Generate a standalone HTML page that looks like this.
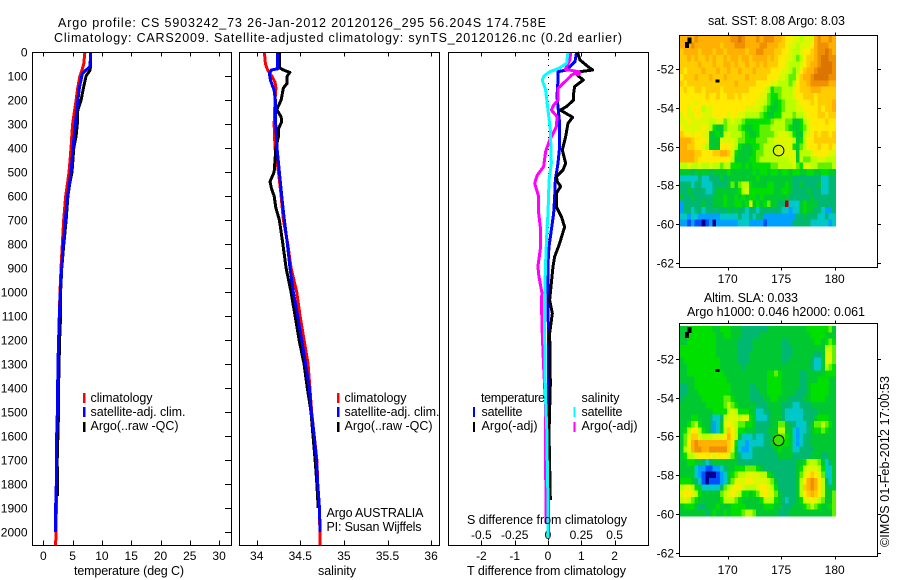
<!DOCTYPE html>
<html lang="en">
<head>
<meta charset="utf-8">
<title>Argo profile CS 5903242_73</title>
<style>
html,body{margin:0;padding:0;background:#fff;}
svg{display:block;}
text{font-family:"Liberation Sans",sans-serif;font-size:12px;fill:#000;}
text[textLength]{font-size:12.5px;}
.frame{fill:none;stroke:#000;stroke-width:1;shape-rendering:crispEdges;}
</style>
</head>
<body>
<svg id="chart" width="900" height="580" viewBox="0 0 900 580" xmlns="http://www.w3.org/2000/svg">
  <rect x="0" y="0" width="900" height="580" fill="#fff"/>
  <text x="58" y="27" textLength="488" lengthAdjust="spacing">Argo profile: CS 5903242_73 26-Jan-2012 20120126_295 56.204S 174.758E</text>
  <text x="54" y="42" textLength="568" lengthAdjust="spacing">Climatology: CARS2009. Satellite-adjusted climatology: synTS_20120126.nc (0.2d earlier)</text>

  <g id="plot-temp"></g>
  <g id="plot-sal"></g>
  <g id="plot-diff"></g>
  <g id="map-sst"></g>
  <g id="map-sla"></g>

  <rect class="frame" x="32.5" y="52.5" width="199" height="493"/>
  <rect class="frame" x="239.5" y="52.5" width="200" height="493"/>
  <rect class="frame" x="448.5" y="52.5" width="200" height="493"/>
  <rect class="frame" x="679.5" y="35.5" width="198" height="232"/>
  <rect class="frame" x="679.5" y="323.5" width="198" height="233"/>

  <text x="74" y="575" textLength="110" lengthAdjust="spacing">temperature (deg C)</text>
  <text x="318" y="575" textLength="38" lengthAdjust="spacing">salinity</text>
  <text x="467" y="575" textLength="159" lengthAdjust="spacing">T difference from climatology</text>
  <text x="467" y="524" textLength="160" lengthAdjust="spacing">S difference from climatology</text>

  <g>
    <rect x="83" y="393" width="2.5" height="10" fill="#ff0000"/>
    <rect x="83" y="407" width="2.5" height="10" fill="#0000ff"/>
    <rect x="83" y="422" width="2.5" height="10" fill="#000"/>
    <text x="90.5" y="402" textLength="62" lengthAdjust="spacing">climatology</text>
    <text x="90.5" y="416" textLength="95" lengthAdjust="spacing">satellite-adj. clim.</text>
    <text x="90.5" y="430" textLength="88" lengthAdjust="spacing">Argo(..raw -QC)</text>
  </g>
  <g>
    <rect x="337" y="393" width="2.5" height="10" fill="#ff0000"/>
    <rect x="337" y="407" width="2.5" height="10" fill="#0000ff"/>
    <rect x="337" y="422" width="2.5" height="10" fill="#000"/>
    <text x="344.5" y="402" textLength="62" lengthAdjust="spacing">climatology</text>
    <text x="344.5" y="416" textLength="95" lengthAdjust="spacing">satellite-adj. clim.</text>
    <text x="344.5" y="430" textLength="88" lengthAdjust="spacing">Argo(..raw -QC)</text>
  </g>
  <text x="326.5" y="517" textLength="97" lengthAdjust="spacing">Argo AUSTRALIA</text>
  <text x="326.5" y="531" textLength="95" lengthAdjust="spacing">PI: Susan Wijffels</text>

  <g>
    <text x="481" y="402" textLength="64" lengthAdjust="spacing">temperature</text>
    <text x="481.5" y="416" textLength="41" lengthAdjust="spacing">satellite</text>
    <text x="481.5" y="430" textLength="56" lengthAdjust="spacing">Argo(-adj)</text>
    <rect x="473" y="407" width="2" height="10" fill="#0000ff"/>
    <rect x="473" y="422" width="2" height="10" fill="#000"/>
    <text x="581.5" y="402" textLength="38" lengthAdjust="spacing">salinity</text>
    <text x="581.5" y="416" textLength="41" lengthAdjust="spacing">satellite</text>
    <text x="581.5" y="430" textLength="56" lengthAdjust="spacing">Argo(-adj)</text>
    <rect x="573.5" y="407" width="2" height="10" fill="#00ffff"/>
    <rect x="573.5" y="422" width="2" height="10" fill="#ff00ff"/>
  </g>

  <text x="708" y="25" textLength="137" lengthAdjust="spacing">sat. SST: 8.08 Argo: 8.03</text>
  <text x="704" y="302" textLength="94" lengthAdjust="spacing">Altim. SLA: 0.033</text>
  <text x="687" y="316" textLength="178" lengthAdjust="spacing">Argo h1000: 0.046 h2000: 0.061</text>
  <text x="889" y="547" transform="rotate(-90 889 547)" textLength="171" lengthAdjust="spacing">©IMOS 01-Feb-2012 17:00:53</text>
</svg>

<script>
const depthTicks = [0,100,200,300,400,500,600,700,800,900,1000,1100,1200,1300,1400,1500,1600,1700,1800,1900,2000];
const tempTicks = [0,5,10,15,20,25,30];
const salTicks = [34,34.5,35,35.5,36];
const salTickLabels = ['34','34.5','35','35.5','36'];
const tDiffTicks = [-2,-1,0,1,2];
const sDiffTicks = [-0.5,-0.25,0,0.25,0.5];
const lonTicks = [170,175,180];
const latTicks = [-52,-54,-56,-58,-60,-62];

const tempClimDepth = [0,50,80,100,150,200,300,400,500,600,700,800,900,1000,1100,1300,1500,1800,2000,2055];
const tempClimValue = [7.1,6.9,6.55,6.25,5.87,5.6,5.0,4.73,4.4,3.82,3.48,3.25,3.02,2.85,2.73,2.5,2.4,2.28,2.17,2.1];
const tempSatDepth = [0,60,75,90,150,200,300,400,500,600,700,800,900,1000,1100,1300,1500,1600,1800,1900,2000];
const tempSatValue = [8.08,7.97,7.3,6.66,6.15,5.9,5.47,5.07,4.73,4.16,3.76,3.42,3.14,2.9,2.73,2.5,2.4,2.28,2.22,2.1,2.1];
const tempArgoDepth = [0,60,75,100,150,200,250,300,350,400,500,550,600,700,800,900,1000,1100,1200,1400,1500,1700,1850];
const tempArgoValue = [8.03,8.03,8.0,7.3,6.85,6.45,5.8,5.8,5.6,5.2,4.9,4.5,4.2,3.9,3.5,3.15,2.95,2.95,2.78,2.6,2.6,2.37,2.43];

const salClimDepth = [0,50,75,100,125,150,200,300,400,500,600,700,800,900,1000,1100,1200,1300,1400,1500,1600,1700,1800,1900,2055];
const salClimValue = [34.088,34.1,34.126,34.172,34.21,34.22,34.21,34.2,34.21,34.25,34.28,34.306,34.356,34.394,34.459,34.497,34.543,34.589,34.61,34.63,34.66,34.69,34.7,34.72,34.727];
const salSatDepth = [0,70,75,90,120,160,200,300,400,500,600,700,800,900,1000,1100,1200,1300,1400,1500,1600,1700,1800,1900,2000];
const salSatValue = [34.24,34.24,34.17,34.145,34.16,34.2,34.214,34.218,34.233,34.26,34.287,34.317,34.352,34.382,34.42,34.47,34.516,34.56,34.604,34.627,34.66,34.685,34.7,34.72,34.727];
const salArgoDepth = [0,65,75,85,100,130,150,200,240,270,290,320,350,400,450,500,540,570,600,650,700,800,900,1000,1100,1200,1300,1400,1500,1600,1700,1800,1900];
const salArgoValue = [34.26,34.26,34.306,34.38,34.35,34.35,34.306,34.28,34.23,34.28,34.287,34.25,34.25,34.22,34.21,34.2,34.153,34.17,34.2,34.22,34.26,34.3,34.337,34.394,34.44,34.486,34.543,34.58,34.623,34.646,34.67,34.69,34.705];

const dTSatDepth = [0,40,75,82,117,186,297,394,464,533,603,672,742,811,880,1019,1300,1700,2025];
const dTSatValue = [0.86,0.81,0.56,0.3,0.3,0.27,0.35,0.35,0.3,0.22,0.2,0.17,0.1,0.03,0,0,0.02,0.02,0.02];
const dTArgoDepth = [0,33,61,75,82,96,117,144,172,200,228,242,272,297,353,408,464,492,519,540,560,589,644,686,728,797,853,894,964,1033,1089,1172,1381,1589,1867];
const dTArgoValue = [0.88,0.96,1.2,1.34,0.96,0.88,1.06,0.8,0.77,0.77,0.55,0.37,0.74,0.6,0.53,0.43,0.53,0.45,0.25,0.28,0.38,0.25,0.25,0.4,0.5,0.35,0.2,0.15,0.1,0.05,0.13,0.05,0.07,0.03,0.07];
const dSSatDepth = [0,47,68,82,100,117,158,242,325,464,533,672,742,880,1019,1172,1311,1450,1589,1728,1867,2025];
const dSSatValue = [0.15,0.14,0.083,0.013,-0.03,-0.043,-0.018,0,0.018,0.025,0.008,0,-0.008,-0.018,-0.025,-0.025,-0.023,-0.018,-0.008,-0.005,0,0];
const dSArgoDepth = [0,33,72,82,96,117,151,200,221,242,269,311,367,415,478,513,547,603,672,742,811,894,936,1005,1033,1172,1311,1450,1589,1728,1967];
const dSArgoValue = [0.17,0.165,0.13,0.227,0.177,0.14,0.076,0.076,0.043,0.025,0.068,0.063,0.013,-0.018,-0.033,-0.08,-0.1,-0.07,-0.07,-0.055,-0.055,-0.076,-0.068,-0.045,-0.05,-0.043,-0.033,-0.02,-0.018,-0.018,-0.013];
const surfaceDiffDepth = [88];
const surfaceDiffS = [0.225];

const levelColors = ['#000090','#0050ff','#00a0ff','#00c8c8','#00b870','#00c830','#00e000','#60f000','#b8ff00','#dcf800','#ffea00','#ffcc00','#ffb000','#f09000','#dc7400','#b00000'];

const sstGrid = [
[12,12,12,12,13,12,12,12,12,12,12,12,12,12,13,13,14,13,12,12,12,13,12,13,13,13,12,12,11,10,10,9,9,8,9,9,9,12,13,12,12,13,12],
[12,12,12,13,12,12,12,12,12,12,12,11,12,12,12,13,13,13,12,12,12,12,13,13,12,12,12,11,11,10,9,9,8,9,9,9,10,12,13,13,13,12,12],
[11,12,12,12,12,11,12,12,12,11,12,12,11,12,12,12,12,12,11,12,12,13,13,12,12,12,11,11,10,10,9,8,8,9,10,10,11,12,13,13,14,13,12],
[11,11,12,11,12,11,11,12,11,12,11,11,12,11,12,12,11,12,12,11,12,12,12,12,11,12,11,10,10,9,9,8,7,8,10,11,11,12,13,14,14,13,13],
[11,11,11,11,11,12,11,11,11,12,11,11,12,12,11,12,11,11,12,11,11,12,11,12,11,11,11,10,10,9,8,8,8,9,10,11,12,12,13,14,14,14,13],
[11,10,11,11,11,11,12,11,11,11,12,11,11,12,11,11,12,11,11,11,12,11,11,11,11,10,10,10,9,9,8,7,8,10,11,12,12,13,14,14,14,14,13],
[10,11,11,11,12,11,11,11,12,11,11,11,12,11,11,11,11,11,12,11,11,11,11,11,10,10,10,9,9,8,7,7,9,11,12,12,13,14,14,14,14,13,13],
[11,10,11,11,11,11,11,11,11,11,11,11,11,11,11,12,11,11,11,11,11,10,10,10,10,9,9,8,8,8,7,8,10,11,11,12,13,13,13,13,13,12,12],
[10,11,10,10,11,11,10,11,11,11,11,10,11,11,11,11,11,11,11,10,10,10,10,9,8,6,7,7,8,8,8,9,10,11,11,11,12,12,12,11,11,11,11],
[10,10,10,10,10,10,10,11,10,10,11,10,10,11,11,10,11,10,10,10,10,10,9,9,7,6,6,7,8,8,8,9,10,10,11,11,11,10,11,11,11,11,11],
[10,10,10,10,9,10,10,10,10,10,10,10,10,10,10,10,10,10,10,10,10,9,9,8,7,6,5,6,7,8,8,8,9,10,10,10,11,10,11,11,11,11,12],
[10,10,9,10,10,10,8,9,9,10,10,10,10,10,10,10,10,10,9,9,9,9,8,7,6,5,5,6,7,8,8,8,9,9,10,10,10,10,11,10,11,11,12],
[9,10,9,9,10,10,9,9,9,10,10,10,10,9,10,10,9,9,8,8,8,8,7,6,5,5,6,6,8,8,8,7,8,8,9,10,10,10,11,11,10,11,11],
[9,9,10,9,9,9,9,9,8,8,9,9,7,8,9,8,8,7,6,6,6,6,6,6,6,7,8,8,8,7,7,5,5,6,8,9,10,10,10,10,11,10,10],
[10,9,9,9,9,9,10,9,8,6,5,5,7,8,8,8,7,6,5,5,6,6,7,7,7,8,8,8,8,7,6,5,5,6,7,9,10,10,10,10,10,10,10],
[11,10,10,9,10,10,9,9,5,5,6,5,8,9,8,8,8,7,6,5,5,6,7,7,7,7,8,9,9,9,8,6,5,5,8,9,10,11,10,11,11,10,11],
[12,12,12,11,10,10,10,9,5,5,5,9,9,9,9,8,7,7,6,6,6,7,7,7,8,8,9,9,9,9,9,8,5,6,8,10,10,11,11,11,11,11,11],
[12,12,11,11,10,10,9,8,5,5,5,10,10,10,9,8,6,5,5,5,6,6,7,8,8,8,8,9,9,9,9,6,5,7,8,10,10,10,11,10,10,11,10],
[12,12,12,12,11,11,10,10,10,11,11,12,12,11,9,6,5,5,5,5,6,7,7,8,8,8,9,9,9,9,9,9,5,8,8,8,9,10,10,10,10,9,9],
[12,12,12,12,11,10,10,10,10,10,10,10,10,10,8,5,5,5,5,6,6,7,8,8,8,8,8,8,8,8,9,9,5,8,7,7,8,8,9,9,8,8,8],
[8,8,9,8,8,9,8,8,9,8,8,7,8,8,6,6,6,5,6,5,6,6,6,6,6,7,7,8,8,8,8,9,7,6,9,9,8,8,7,7,7,7,8],
[5,5,5,4,5,5,5,5,4,5,5,5,5,6,5,5,5,5,5,5,6,5,6,6,5,6,6,5,6,6,5,6,6,5,5,6,6,5,5,6,6,5,5],
[3,3,3,3,3,4,3,3,4,4,4,5,4,5,5,5,5,5,5,5,5,6,5,5,5,5,5,5,5,5,5,4,4,4,4,4,4,4,4,3,3,4,4],
[4,4,4,3,4,4,3,3,3,4,4,4,4,5,7,5,7,8,8,6,5,5,5,5,6,6,5,5,5,6,5,4,4,5,4,4,4,4,5,3,3,4,4],
[4,4,5,4,4,4,4,3,3,4,5,5,5,5,5,5,6,8,9,6,6,6,6,6,6,6,5,5,6,6,5,4,4,4,4,5,4,4,4,3,3,4,4],
[5,4,4,5,4,4,4,4,4,5,5,5,6,5,5,6,5,6,5,6,6,5,6,5,5,5,5,5,5,5,4,4,4,4,4,4,5,4,4,4,4,4,4],
[2,4,4,4,4,4,5,4,4,5,5,5,6,5,5,6,6,5,6,9,5,6,5,6,7,5,5,4,4,15,3,3,3,5,6,5,5,5,4,4,4,4,4],
[2,4,4,3,4,4,3,4,4,4,4,4,4,5,4,5,4,4,3,4,4,3,4,4,4,4,4,4,3,3,2,3,3,5,6,5,5,4,4,3,2,2,4],
[3,3,2,3,3,2,2,2,2,2,2,3,3,3,3,3,4,3,3,4,3,4,4,2,2,2,2,2,2,2,2,2,4,4,5,4,4,4,3,3,4,3,3],
[2,2,1,2,1,1,0,1,2,0,2,2,2,2,2,2,3,3,3,2,2,2,2,1,2,2,2,2,2,2,2,4,4,4,4,4,3,3,3,3,3,2,3]
];

const slaGrid = [
[5,5,6,6,6,6,6,6,6,5,5,6,6,6,5,5,5,4,4,4,4,4,4,4,5,5,5,5,5,5,5,5,5,5,5,6,6,6,6,6,6,7,5],
[5,5,6,6,6,6,6,6,6,6,5,5,6,6,5,5,5,4,4,4,4,4,5,5,5,5,5,5,5,5,5,5,5,5,5,5,6,6,6,6,5,5,5],
[5,5,6,6,6,6,6,6,6,6,5,5,5,5,5,5,4,4,4,4,5,5,5,5,5,5,5,5,4,4,5,5,5,5,5,5,5,6,6,5,6,7,6],
[6,6,6,6,6,6,6,6,6,6,5,5,5,5,5,5,4,4,4,4,5,5,5,5,5,5,5,5,4,4,4,5,5,5,5,5,5,5,5,5,8,8,7],
[6,6,6,6,6,6,6,6,6,6,5,5,5,5,5,5,4,4,4,5,5,5,5,5,5,5,5,5,4,4,4,5,5,5,5,5,5,4,4,5,9,9,7],
[5,6,6,6,6,6,6,6,6,6,6,5,5,5,5,5,4,4,4,5,5,5,5,5,5,5,5,5,4,4,5,5,5,5,5,5,4,3,3,5,9,9,7],
[5,5,6,6,6,6,6,6,6,6,6,5,5,5,5,5,5,4,5,5,5,5,5,5,5,5,5,5,5,5,5,5,5,5,5,5,4,3,3,5,8,7,6],
[5,5,6,6,6,6,6,6,6,6,6,6,5,5,5,5,5,5,5,5,5,5,5,5,6,6,7,6,5,5,5,5,5,4,4,5,5,5,5,5,6,6,6],
[5,5,5,5,6,6,6,6,6,6,6,6,6,5,5,5,5,5,5,5,5,5,5,5,6,6,6,6,5,5,5,5,5,4,4,5,5,5,6,6,6,5,5],
[4,4,5,5,6,6,6,6,6,6,6,6,6,6,5,5,5,5,5,4,4,5,5,5,6,6,6,6,5,5,5,5,5,4,4,5,6,6,6,6,6,5,5],
[4,4,5,5,5,6,6,6,6,6,6,6,6,6,5,5,5,5,5,4,4,4,5,5,6,6,6,6,5,5,5,5,4,4,4,5,6,6,6,6,6,5,5],
[4,5,5,5,5,5,6,6,6,6,6,6,7,7,6,5,5,5,5,4,4,4,4,5,5,6,6,5,5,5,4,4,4,4,5,5,6,6,6,6,5,5,5],
[5,5,5,5,5,5,5,6,6,6,6,6,7,8,7,6,5,5,5,5,5,4,4,4,5,5,5,5,4,4,4,3,3,4,4,4,5,5,5,5,5,5,5],
[5,5,5,5,5,5,5,5,5,6,6,6,6,8,9,8,6,6,6,5,5,3,3,4,4,5,5,5,4,3,3,3,3,3,4,4,4,4,5,5,5,5,5],
[5,5,5,6,6,5,5,5,4,3,3,4,8,9,9,9,8,9,9,6,5,3,3,3,4,5,5,5,4,3,3,3,3,3,4,4,4,5,6,6,6,5,5],
[5,5,6,7,8,6,5,5,4,2,3,5,9,10,9,8,7,7,6,6,5,4,4,4,4,5,5,7,7,5,4,4,3,3,3,4,5,7,7,8,7,6,5],
[5,6,8,10,10,8,6,5,4,2,3,5,8,11,10,8,6,6,5,5,5,4,4,4,5,5,5,8,8,5,5,3,2,3,3,4,5,6,6,7,6,5,5],
[5,7,9,11,11,9,8,8,8,9,9,9,10,12,10,8,5,3,3,3,4,3,3,4,4,5,6,7,7,6,5,3,2,3,4,4,5,5,5,5,5,5,5],
[5,7,10,12,13,12,12,12,12,12,12,12,12,11,10,6,3,3,2,3,3,3,3,4,4,5,6,6,6,6,5,3,2,3,4,4,5,5,5,5,5,5,5],
[5,8,9,12,13,13,12,12,13,13,13,13,13,11,9,5,3,2,2,3,4,4,4,4,4,4,5,6,5,5,5,3,3,4,4,4,4,5,5,5,5,5,5],
[5,6,8,8,9,10,10,10,10,9,10,10,10,9,7,5,4,3,3,3,4,4,4,4,4,4,4,5,5,5,5,4,4,4,4,4,5,5,5,4,4,5,5],
[5,5,6,6,5,5,4,3,4,5,5,5,5,5,5,5,4,4,4,4,4,4,4,4,4,4,4,4,4,4,4,4,5,5,6,8,8,8,7,5,3,4,5],
[5,5,5,5,3,2,2,1,1,2,2,3,4,5,5,6,6,6,7,7,7,6,5,4,4,4,4,4,4,4,4,4,5,6,8,9,9,9,8,6,3,3,5],
[5,5,5,5,3,2,1,0,0,0,1,2,3,5,6,7,8,8,9,9,9,9,8,8,6,5,4,4,4,4,4,4,5,7,9,10,11,10,9,7,3,3,5],
[6,6,6,5,4,3,1,0,1,1,1,2,3,5,7,9,9,9,10,10,9,9,9,9,8,7,5,4,4,4,4,4,5,8,10,12,13,12,10,8,4,3,5],
[8,9,9,8,6,5,3,3,3,3,3,4,7,8,9,10,10,9,8,8,8,9,10,10,9,8,6,4,4,4,4,4,5,8,11,12,13,12,10,8,5,4,5],
[9,10,10,9,8,6,5,5,5,5,5,7,8,9,10,9,8,6,6,5,6,7,9,10,9,9,7,5,4,4,4,4,5,8,10,11,12,11,10,8,5,5,7],
[8,9,8,7,6,5,5,5,5,5,5,6,8,8,8,7,6,5,5,5,5,5,6,8,8,8,6,5,4,3,4,4,5,6,9,9,10,9,8,7,5,5,7],
[5,6,6,6,5,4,4,5,5,5,6,5,5,5,6,6,6,6,5,5,5,5,5,6,6,6,5,5,4,4,4,5,5,5,6,7,8,7,6,5,5,6,7],
[5,5,5,5,5,5,5,4,5,6,5,5,6,5,6,6,6,7,8,8,7,5,5,5,5,5,5,4,4,4,5,5,5,5,5,5,5,5,5,5,5,5,7]
];

const profileLon = [174.758];
const profileLat = [-56.204];
const islandLon = [166.2,166.45,169.05];
const islandLat = [-50.75,-50.5,-52.6];

const NS = 'http://www.w3.org/2000/svg';
const PLOT_TOP = 52.5;
const PLOT_BOTTOM = 545.5;
const LINE_WIDTH = 3;
const yDepth = d => 52 + d * 0.24;
const xTemp = t => 43.3 + t * 5.86;
const xSal = s => 256.7 + (s - 34) * 87.2;
const xDT = t => 548 + t * 33.3;
const xDS = s => 548 + s * 4 * 33.3;
const xLon = lon => 727.7 + (lon - 170) * 10.7;
const yLatSst = lat => 69.3 + (-52 - lat) * 19.33;
const yLatSla = lat => 359 + (-52 - lat) * 19.36;

function node(tag, parent, attrs) {
  const el = document.createElementNS(NS, tag);
  for (const k in attrs) el.setAttribute(k, attrs[k]);
  parent.appendChild(el);
  return el;
}

function drawLine(parent, depths, values, xFn, color, width, name) {
  let pts = '';
  for (let i = 0; i < depths.length; i++) {
    pts += xFn(values[i]).toFixed(2) + ',' + yDepth(depths[i]).toFixed(2) + ' ';
  }
  const el = node('polyline', parent, {points: pts, fill: 'none', stroke: color, 'stroke-width': width, 'shape-rendering': 'crispEdges', 'stroke-linejoin': 'round'});
  
  
}

function xTicks(parent, ticks, xFn, labels, labelY) {
  ticks.forEach((t, i) => {
    const x = Math.round(xFn(t)) + 0.5;
    const top = node('line', parent, {x1: x, x2: x, y1: PLOT_TOP, y2: PLOT_TOP + 4, stroke: '#000', 'shape-rendering': 'crispEdges'});
    
    
    const bottom = node('line', parent, {x1: x, x2: x, y1: PLOT_BOTTOM - 5, y2: PLOT_BOTTOM, stroke: '#000', 'shape-rendering': 'crispEdges'});
    
    
    const label = node('text', parent, {x: xFn(t), y: labelY, 'text-anchor': 'middle'});
    label.textContent = labels[i];
    
    
  });
}

/* temperature panel */
const tempPanel = document.getElementById('plot-temp');
depthTicks.forEach(d => {
  const y = Math.round(yDepth(d)) + 0.5;
  const tick = node('line', tempPanel, {x1: 225, x2: 231.5, y1: y, y2: y, stroke: '#000', 'shape-rendering': 'crispEdges'});
  
  
  const label = node('text', tempPanel, {x: 27.5, y: y + 4, 'text-anchor': 'end'});
  label.textContent = d;
  
  
});
xTicks(tempPanel, tempTicks, xTemp, tempTicks, 560);
drawLine(tempPanel, tempClimDepth, tempClimValue, xTemp, '#ff0000', LINE_WIDTH, 'temperature-climatology-line');
drawLine(tempPanel, tempArgoDepth, tempArgoValue, xTemp, '#000000', LINE_WIDTH, 'temperature-argo-line');
drawLine(tempPanel, tempSatDepth, tempSatValue, xTemp, '#0000ff', LINE_WIDTH, 'temperature-satellite-line');

/* salinity panel */
const salPanel = document.getElementById('plot-sal');
xTicks(salPanel, salTicks, xSal, salTickLabels, 560);
drawLine(salPanel, salClimDepth, salClimValue, xSal, '#ff0000', LINE_WIDTH, 'salinity-climatology-line');
drawLine(salPanel, salArgoDepth, salArgoValue, xSal, '#000000', LINE_WIDTH, 'salinity-argo-line');
drawLine(salPanel, salSatDepth, salSatValue, xSal, '#0000ff', LINE_WIDTH, 'salinity-satellite-line');

/* difference panel */
const diffPanel = document.getElementById('plot-diff');
xTicks(diffPanel, tDiffTicks, xDT, tDiffTicks, 560);
sDiffTicks.forEach(s => {
  const label = node('text', diffPanel, {x: xDS(s), y: 539, 'text-anchor': 'middle'});
  label.textContent = s;
  
  
});
const zeroLine = node('line', diffPanel, {x1: 548.5, x2: 548.5, y1: 53, y2: 540, stroke: '#000', 'stroke-dasharray': '1 5', 'shape-rendering': 'crispEdges'});


drawLine(diffPanel, dTSatDepth, dTSatValue, xDT, '#0000ff', LINE_WIDTH, 'temperature-difference-satellite-line');
drawLine(diffPanel, dTArgoDepth, dTArgoValue, xDT, '#000000', LINE_WIDTH, 'temperature-difference-argo-line');
drawLine(diffPanel, dSArgoDepth, dSArgoValue, xDS, '#ff00ff', LINE_WIDTH, 'salinity-difference-argo-line');
drawLine(diffPanel, dSSatDepth, dSSatValue, xDS, '#00ffff', LINE_WIDTH, 'salinity-difference-satellite-line');
surfaceDiffDepth.forEach((d, i) => {
  const dot = node('circle', diffPanel, {cx: xDS(surfaceDiffS[i]), cy: yDepth(d), r: 3, fill: '#ff00ff'});
  
  
});

/* maps */
const CELL_W = 155.7 / 43;
const CELL_H = 190 / 30;
function drawMap(group, grid, yLat, top, prefix, circleFill, labelY, frameTop, frameBottom) {
  grid.forEach((row, r) => {
    for (let c = 0; c < 43; c++) {
      const v = row[c] !== undefined ? row[c] : row[row.length - 1];
      const x = 680 + c * CELL_W;
      const y = top + r * CELL_H;
      const cell = node('rect', group, {x: x.toFixed(2), y: y.toFixed(2), width: (CELL_W + 0.4).toFixed(2), height: (CELL_H + 0.4).toFixed(2), fill: levelColors[v], 'shape-rendering': 'crispEdges'});
      
      
    }
  });
  islandLon.forEach((lon, i) => {
    const big = i < 2;
    const land = node('rect', group, {x: xLon(lon) - (big ? 2 : 2), y: yLat(islandLat[i]) - (big ? 3 : 1.5), width: big ? 4 : 4, height: big ? 6 : 3, fill: '#000', 'shape-rendering': 'crispEdges'});
    
    
  });
  profileLon.forEach((lon, i) => {
    const pos = node('circle', group, {cx: xLon(lon), cy: yLat(profileLat[i]), r: 5.3, fill: circleFill, stroke: '#000', 'stroke-width': 1});
    
    
  });
  lonTicks.forEach(lon => {
    const x = Math.round(xLon(lon)) + 0.5;
    const t1 = node('line', group, {x1: x, x2: x, y1: frameTop - 3, y2: frameTop, stroke: '#000', 'shape-rendering': 'crispEdges'});
    
    
    const t2 = node('line', group, {x1: x, x2: x, y1: frameBottom, y2: frameBottom + 3, stroke: '#000', 'shape-rendering': 'crispEdges'});
    
    
    const label = node('text', group, {x: xLon(lon), y: labelY, 'text-anchor': 'middle'});
    label.textContent = lon;
    
    
  });
  latTicks.forEach(lat => {
    const y = Math.round(yLat(lat)) + 0.5;
    const t1 = node('line', group, {x1: 676, x2: 679.5, y1: y, y2: y, stroke: '#000', 'shape-rendering': 'crispEdges'});
    
    
    const t2 = node('line', group, {x1: 877.5, x2: 881, y1: y, y2: y, stroke: '#000', 'shape-rendering': 'crispEdges'});
    
    
    const label = node('text', group, {x: 674, y: y + 4, 'text-anchor': 'end'});
    label.textContent = lat;
    
    
  });
}
drawMap(document.getElementById('map-sst'), sstGrid, yLatSst, 36, 'sst', 'none', 283, 35.5, 267.5);
drawMap(document.getElementById('map-sla'), slaGrid, yLatSla, 326, 'sla', '#40e000', 574, 323.5, 556.5);
</script>
</body>
</html>
